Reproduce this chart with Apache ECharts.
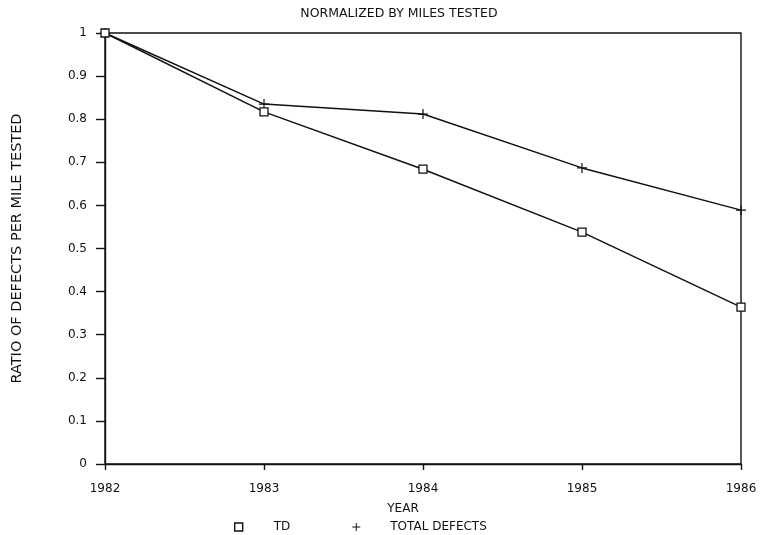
<!DOCTYPE html>
<html><head><meta charset="utf-8">
<script src="https://cdn.jsdelivr.net/npm/echarts@6/dist/echarts.min.js"></script>
<style>html,body{margin:0;padding:0;background:#fff}#c{width:761px;height:535px}</style>
</head><body><div id="c"></div>
<script>
const years = ['1982', '1983', '1984', '1985', '1986'];
const tdValues = [1.0, 0.817, 0.684, 0.538, 0.364];
const totalDefectValues = [1.0, 0.835, 0.812, 0.687, 0.589];
const yTicks = [0, 0.1, 0.2, 0.3, 0.4, 0.5, 0.6, 0.7, 0.8, 0.9, 1];

const plus = 'path://M4.4,0H5.6V4.4H10V5.6H5.6V10H4.4V5.6H0V4.4H4.4Z';
const font = 'DejaVu Sans';
const ink = '#111';
const chart = echarts.init(document.getElementById('c'));
chart.setOption({
  backgroundColor: '#fff',
  animation: false,
  title: [
    {text: 'NORMALIZED BY MILES TESTED', left: 394, top: 2, textAlign: 'center',
     textStyle: {fontFamily: font, fontSize: 12.5, fontWeight: 'normal', color: ink}},
    {text: 'YEAR', left: 398, top: 498, textAlign: 'center',
     textStyle: {fontFamily: font, fontSize: 12, fontWeight: 'normal', color: ink}}
  ],
  legend: {
    left: 229, top: 516, itemGap: 62, itemWidth: 8, itemHeight: 8,
    textStyle: {fontFamily: font, fontSize: 12, color: ink},
    data: [
      {name: 'TD', icon: 'rect', itemStyle: {color: '#fff', borderColor: ink, borderWidth: 1.4},
       textStyle: {padding: [0, 0, 0, 26]}},
      {name: 'TOTAL DEFECTS', icon: plus, itemStyle: {color: ink, borderWidth: 0},
       textStyle: {padding: [0, 0, 0, 25]}}
    ]
  },
  grid: {left: 105, right: 20, top: 33, bottom: 71, show: true, borderColor: ink, borderWidth: 1.4},
  xAxis: {
    type: 'category', data: years, boundaryGap: false,
    axisLine: {lineStyle: {color: ink, width: 1.4}},
    axisTick: {show: true, length: 6, lineStyle: {color: ink, width: 1.4}},
    axisLabel: {fontFamily: font, fontSize: 12, color: ink, margin: 19},
    splitLine: {show: false}
  },
  yAxis: {
    type: 'value', min: 0, max: 1, interval: 0.1,
    name: 'RATIO OF DEFECTS PER MILE TESTED', nameLocation: 'middle', nameGap: 80, nameRotate: 90,
    nameTextStyle: {fontFamily: font, fontSize: 14.5, color: ink},
    axisLine: {show: true, lineStyle: {color: ink, width: 1.4}},
    axisTick: {show: true, length: 9, lineStyle: {color: ink, width: 1.4}},
    axisLabel: {fontFamily: font, fontSize: 12, color: ink, margin: 18,
      formatter: v => { const t = yTicks.find(x => Math.abs(x - v) < 1e-6); return t === undefined ? '' : String(t); }},
    splitLine: {show: false}
  },
  series: [
    {name: 'TD', type: 'line', data: tdValues, symbol: 'rect', symbolSize: 8, showAllSymbol: true,
     lineStyle: {color: ink, width: 1.5},
     itemStyle: {color: '#fff', borderColor: ink, borderWidth: 1.3}, z: 3},
    {name: 'TOTAL DEFECTS', type: 'line', data: totalDefectValues, symbol: plus, symbolSize: 10, showAllSymbol: true,
     lineStyle: {color: ink, width: 1.5},
     itemStyle: {color: ink, borderWidth: 0}, z: 2}
  ]
});
</script></body></html>
